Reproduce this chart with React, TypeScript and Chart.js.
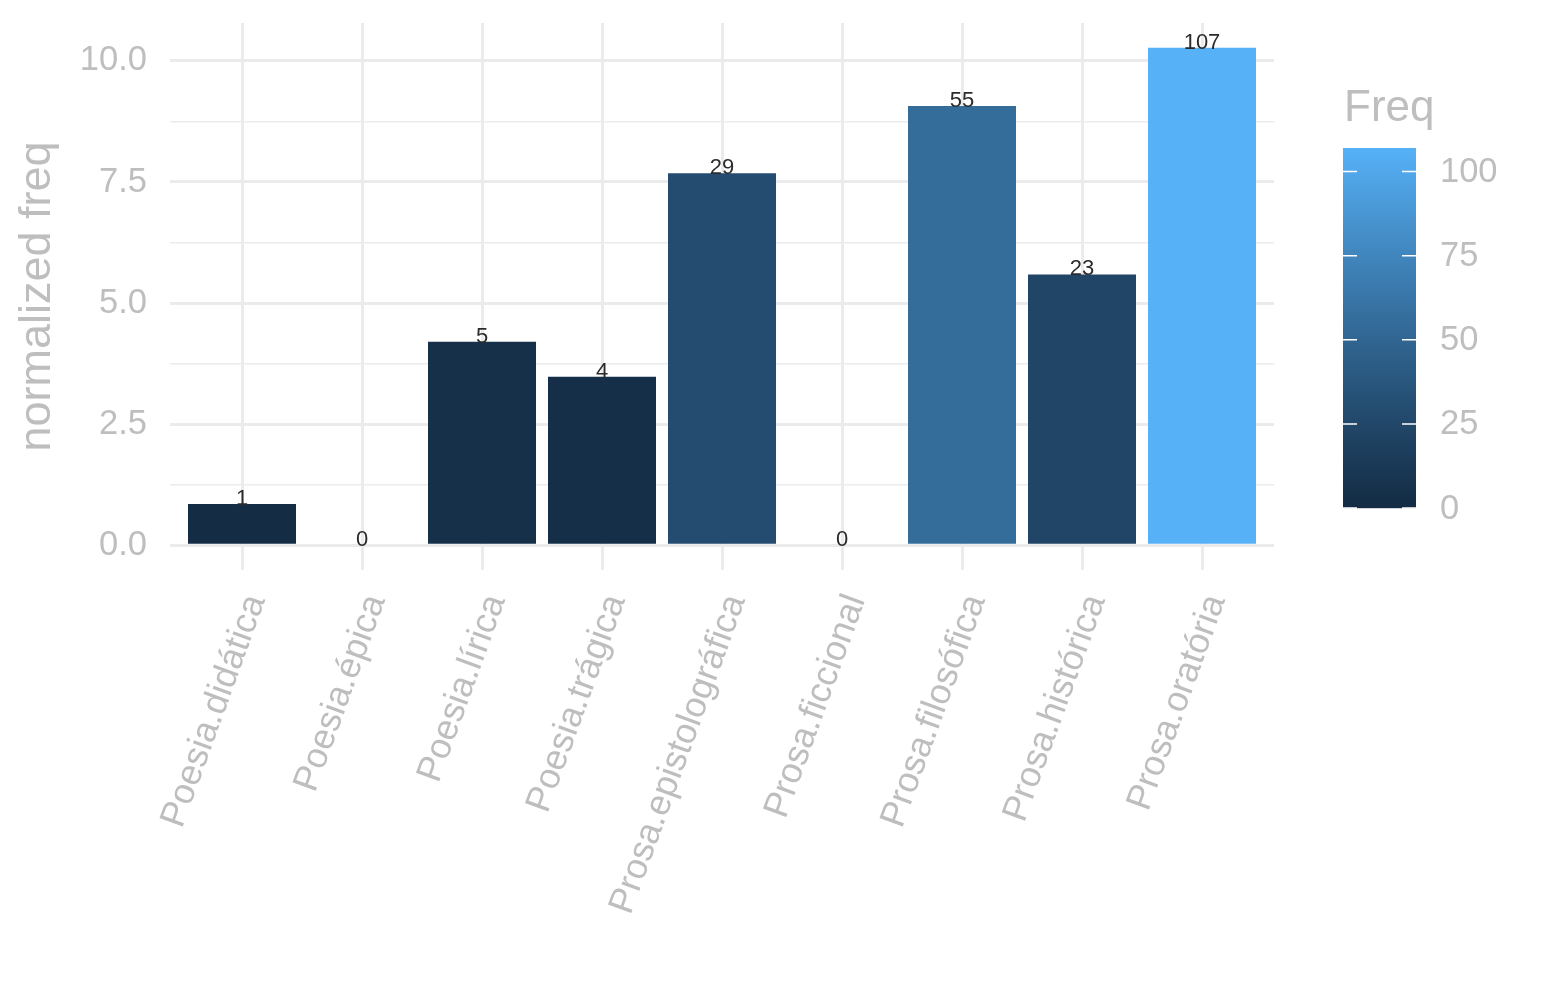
import React, { useEffect, useRef } from 'react';
import { Chart, registerables } from 'chart.js';

Chart.register(...registerables);

const categories = [
  'Poesia.didática',
  'Poesia.épica',
  'Poesia.lírica',
  'Poesia.trágica',
  'Prosa.epistolográfica',
  'Prosa.ficcional',
  'Prosa.filosófica',
  'Prosa.histórica',
  'Prosa.oratória',
];
const normFreq = [0.85, 0, 4.2, 3.48, 7.68, 0, 9.07, 5.59, 10.27];
const freq = [1, 0, 5, 4, 29, 0, 55, 23, 107];
const yMajorTicks = [0, 2.5, 5, 7.5, 10];
const yMinorTicks = [1.25, 3.75, 6.25, 8.75];
const legendTicks = [0, 25, 50, 75, 100];
const legendTitle = 'Freq';
const yTitle = 'normalized freq';
const lowColor = '#132B43';
const highColor = '#56B1F7';

const FONT = '"Liberation Sans", Arial, Helvetica, sans-serif';
const GREY = '#BEBEBE';
const GRID = '#EBEBEB';

// ---- Lab colour interpolation (as ggplot's gradient) ----
function hexToRgb(h: string) {
  const n = parseInt(h.slice(1), 16);
  return [(n >> 16) & 255, (n >> 8) & 255, n & 255];
}
function srgbToLin(c: number) {
  c /= 255;
  return c <= 0.04045 ? c / 12.92 : Math.pow((c + 0.055) / 1.055, 2.4);
}
function linToSrgb(c: number) {
  const v = c <= 0.0031308 ? 12.92 * c : 1.055 * Math.pow(c, 1 / 2.4) - 0.055;
  return Math.max(0, Math.min(255, Math.round(v * 255)));
}
const WX = 0.95047, WY = 1.0, WZ = 1.08883;
function rgbToLab(rgb: number[]) {
  const [r, g, b] = rgb.map(srgbToLin);
  const x = (0.4124564 * r + 0.3575761 * g + 0.1804375 * b) / WX;
  const y = (0.2126729 * r + 0.7151522 * g + 0.072175 * b) / WY;
  const z = (0.0193339 * r + 0.119192 * g + 0.9503041 * b) / WZ;
  const f = (t: number) => (t > 216 / 24389 ? Math.cbrt(t) : (24389 / 27 * t + 16) / 116);
  const fx = f(x), fy = f(y), fz = f(z);
  return [116 * fy - 16, 500 * (fx - fy), 200 * (fy - fz)];
}
function labToRgb(lab: number[]) {
  const [L, A, B] = lab;
  const fy = (L + 16) / 116;
  const fx = fy + A / 500;
  const fz = fy - B / 200;
  const inv = (t: number) => (t * t * t > 216 / 24389 ? t * t * t : (116 * t - 16) / (24389 / 27));
  const x = inv(fx) * WX, y = inv(fy) * WY, z = inv(fz) * WZ;
  const r = 3.2404542 * x - 1.5371385 * y - 0.4985314 * z;
  const g = -0.969266 * x + 1.8760108 * y + 0.041556 * z;
  const b = 0.0556434 * x - 0.2040259 * y + 1.0572252 * z;
  return [linToSrgb(r), linToSrgb(g), linToSrgb(b)];
}
const LOW_LAB = rgbToLab(hexToRgb(lowColor));
const HIGH_LAB = rgbToLab(hexToRgb(highColor));
const FREQ_MIN = Math.min(...freq);
const FREQ_MAX = Math.max(...freq);
function colorFor(v: number) {
  const t = Math.max(0, Math.min(1, (v - FREQ_MIN) / (FREQ_MAX - FREQ_MIN)));
  const lab = LOW_LAB.map((l, i) => l + (HIGH_LAB[i] - l) * t);
  const [r, g, b] = labToRgb(lab);
  return `rgb(${r},${g},${b})`;
}

const barLabelPlugin = {
  id: 'barLabels',
  afterDatasetsDraw(chart: any) {
    const meta = chart.getDatasetMeta(0);
    const ctx = chart.ctx;
    ctx.save();
    ctx.font = `22px ${FONT}`;
    ctx.fillStyle = '#2B2B2B';
    ctx.textAlign = 'center';
    ctx.textBaseline = 'alphabetic';
    meta.data.forEach((bar: any, i: number) => {
      ctx.fillText(String(freq[i]), bar.x, bar.y + 1);
    });
    ctx.restore();
  },
};

const colorbarPlugin = {
  id: 'colorbar',
  afterDraw(chart: any) {
    const ctx = chart.ctx;
    const left = 1343, width = 73, top = 148, bottom = 508;
    const h = bottom - top;
    const valToY = (v: number) => bottom - ((v - FREQ_MIN) / (FREQ_MAX - FREQ_MIN)) * h;
    ctx.save();
    ctx.font = `44px ${FONT}`;
    ctx.fillStyle = GREY;
    ctx.textAlign = 'left';
    ctx.textBaseline = 'alphabetic';
    ctx.fillText(legendTitle, 1344, 121);
    for (let i = 0; i < h; i++) {
      const v = FREQ_MIN + ((h - i - 0.5) / h) * (FREQ_MAX - FREQ_MIN);
      ctx.fillStyle = colorFor(v);
      ctx.fillRect(left, top + i, width, 1.2);
    }
    ctx.strokeStyle = '#FFFFFF';
    ctx.lineWidth = 1.5;
    legendTicks.forEach((v) => {
      const y = valToY(v);
      ctx.beginPath();
      ctx.moveTo(left, y);
      ctx.lineTo(left + 14, y);
      ctx.moveTo(left + width - 14, y);
      ctx.lineTo(left + width, y);
      ctx.stroke();
    });
    ctx.font = `34.5px ${FONT}`;
    ctx.fillStyle = GREY;
    ctx.textAlign = 'left';
    ctx.textBaseline = 'middle';
    legendTicks.forEach((v) => {
      ctx.fillText(String(v), 1440, valToY(v) + 1);
    });
    ctx.restore();
  },
};

export default function App() {
  const ref = useRef<HTMLCanvasElement>(null);

  useEffect(() => {
    if (!ref.current) return;
    const yTop = Math.max(...normFreq);
    const yPad = yTop * 0.05;
    const chart = new Chart(ref.current, {
      type: 'bar',
      data: {
        datasets: [
          {
            data: normFreq.map((v, i) => ({ x: i, y: v })),
            backgroundColor: freq.map((f) => colorFor(f)),
            borderWidth: 0,
            categoryPercentage: 1,
            barPercentage: 0.9,
          } as any,
        ],
      },
      options: {
        animation: false,
        responsive: false,
        devicePixelRatio: 1,
        layout: { padding: { top: 23, right: 271, left: 0, bottom: 0 } },
        plugins: { legend: { display: false }, tooltip: { enabled: false } },
        scales: {
          x: {
            type: 'linear',
            offset: false,
            min: -0.6,
            max: categories.length - 1 + 0.6,
            afterBuildTicks: (scale: any) => {
              scale.ticks = categories.map((_, i) => ({ value: i }));
            },
            afterFit: (scale: any) => {
              scale.height = 430;
              scale.paddingLeft = 0;
              scale.paddingRight = 0;
            },
            grid: { color: GRID, lineWidth: 3, drawTicks: false, offset: false },
            border: { display: false },
            ticks: {
              autoSkip: false,
              maxRotation: 70,
              minRotation: 70,
              padding: 19,
              labelOffset: 14,
              color: GREY,
              font: { family: FONT, size: 36 },
              callback: (v: any) => categories[v] ?? '',
            },
          },
          y: {
            type: 'linear',
            min: -yPad,
            max: yTop + yPad,
            afterBuildTicks: (scale: any) => {
              scale.ticks = [...yMajorTicks, ...yMinorTicks]
                .sort((a, b) => a - b)
                .map((v) => ({ value: v }));
            },
            afterFit: (scale: any) => {
              scale.width = 170;
              scale.paddingTop = 0;
              scale.paddingBottom = 0;
            },
            grid: {
              color: GRID,
              drawTicks: false,
              lineWidth: (c: any) => (yMinorTicks.includes(c.tick?.value) ? 1.5 : 3),
            },
            border: { display: false },
            ticks: {
              autoSkip: false,
              padding: 23,
              color: GREY,
              font: { family: FONT, size: 34.5 },
              callback: (v: any) => (yMajorTicks.includes(v) ? Number(v).toFixed(1) : ''),
            },
            title: {
              display: true,
              text: yTitle,
              color: GREY,
              font: { family: FONT, size: 45 },
              padding: { top: 11, bottom: 0 },
            },
          },
        },
      },
      plugins: [barLabelPlugin, colorbarPlugin],
    });
    return () => chart.destroy();
  }, []);

  return (
    <div style={{ position: 'fixed', left: 0, top: 0, width: 1545, height: 1000, background: '#fff' }}>
      <canvas ref={ref} width={1545} height={1000} style={{ width: 1545, height: 1000 }} />
    </div>
  );
}
